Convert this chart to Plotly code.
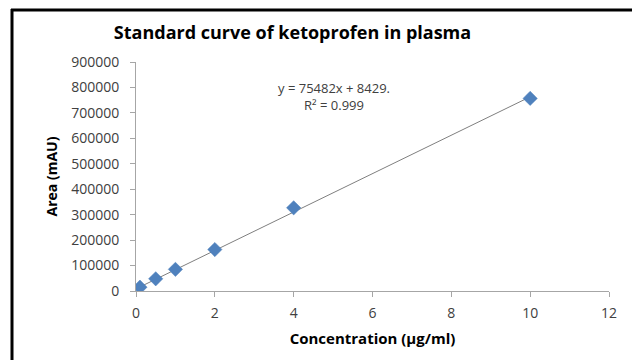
import plotly.graph_objects as go

# Data
concentration = [0.1, 0.5, 1, 2, 4, 10]
area = [15000, 48000, 85000, 163000, 327000, 757000]
slope = 75482
intercept = 8429
equation_text = "y = 75482x + 8429.<br>R² = 0.999"
x_ticks = [0, 2, 4, 6, 8, 10, 12]
y_ticks = [0, 100000, 200000, 300000, 400000, 500000, 600000, 700000, 800000, 900000]

W, H = 632, 360
L, R, T, B = 136, 23, 62, 69
pw, ph = W - L - R, H - T - B

def px(x):
    return (x - L) / pw

def py(y):
    return (H - B - y) / ph

trend_x = [min(concentration), max(concentration)]
trend_y = [slope * v + intercept for v in trend_x]

fig = go.Figure()
fig.add_trace(go.Scatter(x=trend_x, y=trend_y, mode="lines",
                         line=dict(color="#7f7f7f", width=1), showlegend=False, hoverinfo="skip"))
fig.add_trace(go.Scatter(x=concentration, y=area, mode="markers",
                         marker=dict(symbol="diamond", size=11, color="#4F81BD",
                                     line=dict(color="#4A7EBB", width=0.5)),
                         showlegend=False))

font = "Open Sans"
fig.update_layout(
    width=W, height=H,
    margin=dict(l=L, r=R, t=T, b=B, pad=0),
    paper_bgcolor="white", plot_bgcolor="white",
    font=dict(family=font, color="#404040", size=12),
    title=dict(text="<b>Standard curve of ketoprofen in plasma</b>",
               x=(117 + 468) / 2 / W, xanchor="center", y=1 - 33 / H, yanchor="middle",
               font=dict(family=font, size=18, color="black")),
    xaxis=dict(range=[0, 12], tickvals=x_ticks, showgrid=False, zeroline=False,
               showline=True, linecolor="#a6a6a6", linewidth=1,
               ticks="outside", ticklen=5, tickcolor="#a6a6a6",
               ticklabelstandoff=4,
               tickfont=dict(size=14, color="#404040"),
               title=dict(text="<b>Concentration (µg/ml)</b>", standoff=12,
                          font=dict(size=15, color="black"))),
    yaxis=dict(range=[0, 900000], tickvals=y_ticks, showgrid=False, zeroline=False,
               showline=True, linecolor="#a6a6a6", linewidth=1,
               ticks="outside", ticklen=5, tickcolor="#a6a6a6",
               ticklabelstandoff=8,
               tickformat="d",
               tickfont=dict(size=14, color="#404040"),
               title=dict(text="<b>Area (mAU)</b>", standoff=10,
                          font=dict(size=14, color="black"))),
    annotations=[dict(text=equation_text, xref="paper", yref="paper",
                      x=px(334), y=py(96), xanchor="center", yanchor="middle",
                      showarrow=False, align="center",
                      font=dict(family=font, size=13, color="#404040"))],
    shapes=[
        dict(type="line", xref="paper", yref="paper", x0=px(11), x1=px(640),
             y0=py(10), y1=py(10), line=dict(color="black", width=3)),
        dict(type="line", xref="paper", yref="paper", x0=px(12), x1=px(12),
             y0=py(9), y1=py(370), line=dict(color="black", width=3)),
    ],
)

fig.write_html("out.html")
